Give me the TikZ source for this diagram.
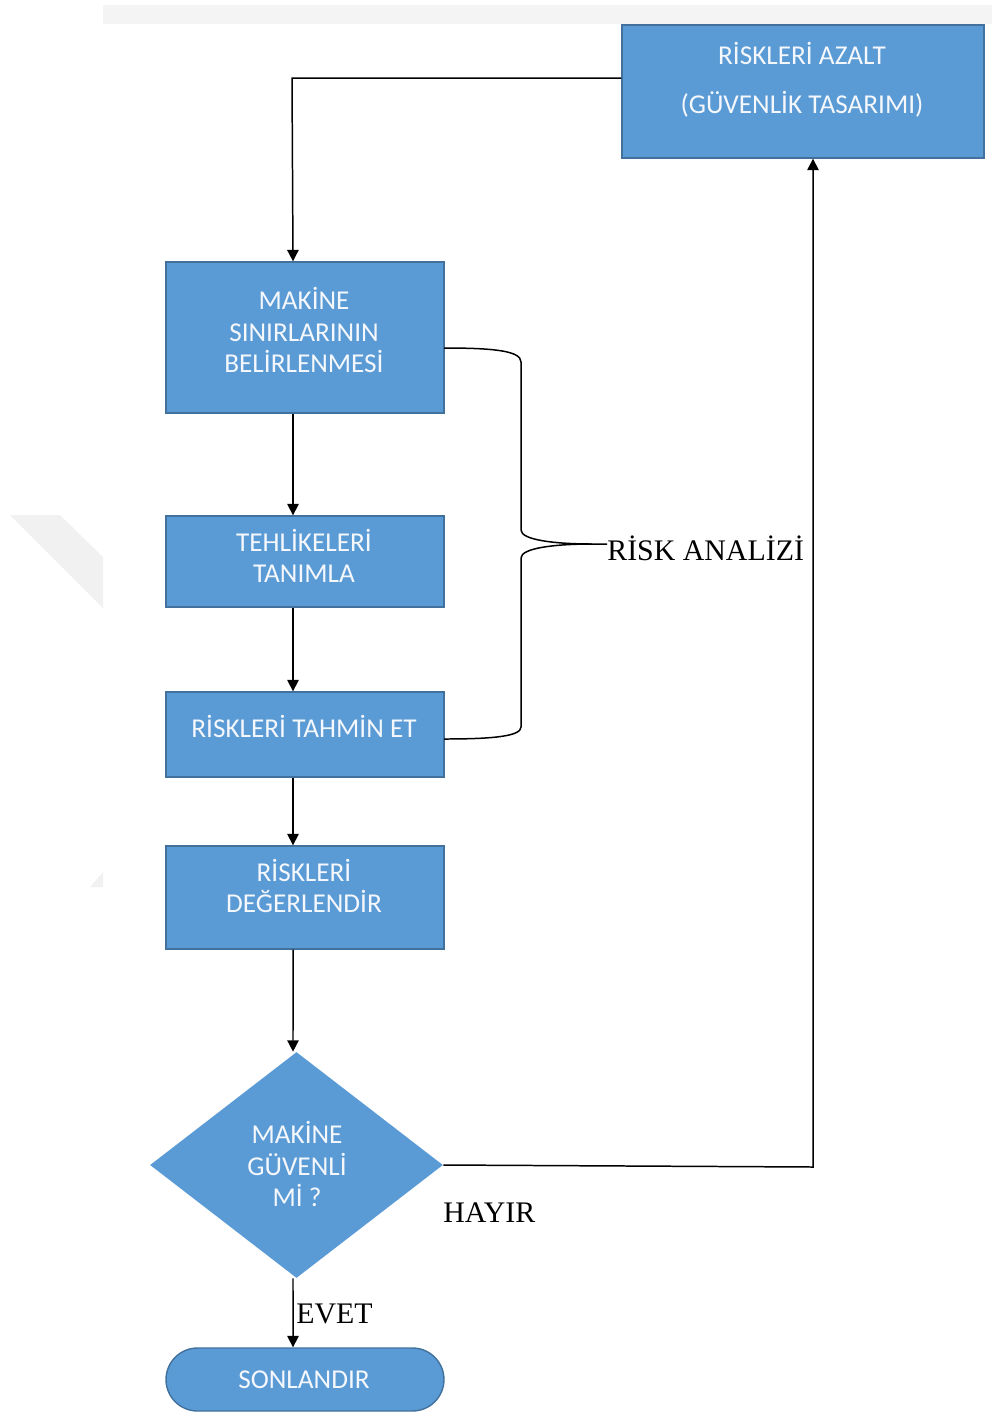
\documentclass[tikz,border=0pt]{standalone}
\usepackage{fontspec}
\setmainfont{Liberation Serif}
\newfontfamily\boxfont{Carlito}
\usetikzlibrary{shapes.geometric,shapes.misc,arrows.meta,calc}
\definecolor{boxfill}{HTML}{5B9BD5}
\definecolor{boxline}{HTML}{41719C}
\definecolor{boxtxt}{HTML}{F4F7FB}
\definecolor{paleband}{HTML}{F4F4F4}
\definecolor{palemark}{HTML}{F1F1F1}
\begin{document}
\begin{tikzpicture}[x=0.02cm,y=-0.02cm,
  every node/.style={inner sep=0pt},
  stepbox/.style={draw=boxline,fill=boxfill,line width=0.8pt,rectangle},
  decisionbox/.style={fill=boxfill,diamond,minimum width=5.86cm,minimum height=4.52cm},
  endbox/.style={draw=boxline,fill=boxfill,line width=0.8pt,rounded rectangle,
    minimum width=5.56cm,minimum height=1.26cm},
  boxtext/.style={text=boxtxt,align=center,font=\boxfont\fontsize{15.5}{18}\selectfont},
  sidetext/.style={font=\fontsize{17}{18}\selectfont},
  flow/.style={line width=0.85pt,-{Triangle[width=6.5pt,length=6.5pt]}},
  plain/.style={line width=0.85pt}]
\useasboundingbox (0,0) rectangle (992,1414);

% page decoration: grey band and faint mark on the left
\fill[paleband] (103,5) rectangle (992,24);
\fill[palemark] (10,515) -- (60,515) -- (103,557) -- (103,608) -- cycle;
\fill[palemark] (90,887) -- (103,887) -- (103,872) -- cycle;

% boxes
\node[stepbox,minimum width=7.24cm,minimum height=2.66cm] (azalt) at (803,91.5) {};
\node[stepbox,minimum width=5.56cm,minimum height=3.02cm] (sinir) at (305,337.5) {};
\node[stepbox,minimum width=5.56cm,minimum height=1.82cm] (tehlike) at (305,561.5) {};
\node[stepbox,minimum width=5.56cm,minimum height=1.70cm] (tahmin) at (305,734.5) {};
\node[stepbox,minimum width=5.56cm,minimum height=2.06cm] (deger) at (305,897.5) {};
\node[decisionbox] (guvenli) at (296.5,1165) {};
\node[endbox] (son) at (305,1379.5) {};

% box texts
\node[boxtext,font=\boxfont\fontsize{15.5}{28}\selectfont] at (802,80) {RİSKLERİ AZALT\\(GÜVENLİK TASARIMI)};
\node[boxtext] at (304,330) {MAKİNE\\SINIRLARININ\\BELİRLENMESİ};
\node[boxtext] at (304,556) {TEHLİKELERİ\\TANIMLA};
\node[boxtext] at (304,726) {RİSKLERİ TAHMİN ET};
\node[boxtext] at (304,886) {RİSKLERİ\\DEĞERLENDİR};
\node[boxtext] at (297,1164) {MAKİNE\\GÜVENLİ\\Mİ ?};
\node[boxtext] at (304,1380) {SONLANDIR};

% main flow
\draw[flow] ([xshift=-0.24cm]sinir.south) -- ([xshift=-0.24cm]tehlike.north);
\draw[flow] ([xshift=-0.24cm]tehlike.south) -- ([xshift=-0.24cm]tahmin.north);
\draw[flow] ([xshift=-0.24cm]tahmin.south) -- ([xshift=-0.24cm]deger.north);
\draw[flow] ([xshift=-0.24cm]deger.south) -- ([xshift=-0.07cm]guvenli.north);
\draw[flow] ([xshift=-0.07cm]guvenli.south) -- ([xshift=-0.24cm]son.north);

% loop back through the redesign step
\coordinate (hayirc) at (813,1167);
\draw[flow] (guvenli.east) -- (hayirc) -- (hayirc |- azalt.south);
\coordinate (donus) at (292,78);
\draw[flow] (azalt.west |- donus) -- (donus) -- ([xshift=-0.24cm]sinir.north);

% brace grouping the analysis steps
\coordinate (tip) at (607,544);
\draw[plain] (444,348) .. controls (495,348) and (521,351) .. (521,362)
  -- (521,530) .. controls (521,540) and (555,544) .. (592,544) -- (tip);
\draw[plain] (592,544) .. controls (555,544) and (521,548) .. (521,558)
  -- (521,727) .. controls (521,736) and (495,739) .. (444,739);

% labels
\node[sidetext,anchor=base west] (analiz) at (607,560) {RİSK ANALİZİ};
\node[sidetext,anchor=base west] (hayir) at (443,1222) {HAYIR};
\node[sidetext,anchor=base west] (evet) at (296,1323) {EVET};
\end{tikzpicture}
\end{document}
